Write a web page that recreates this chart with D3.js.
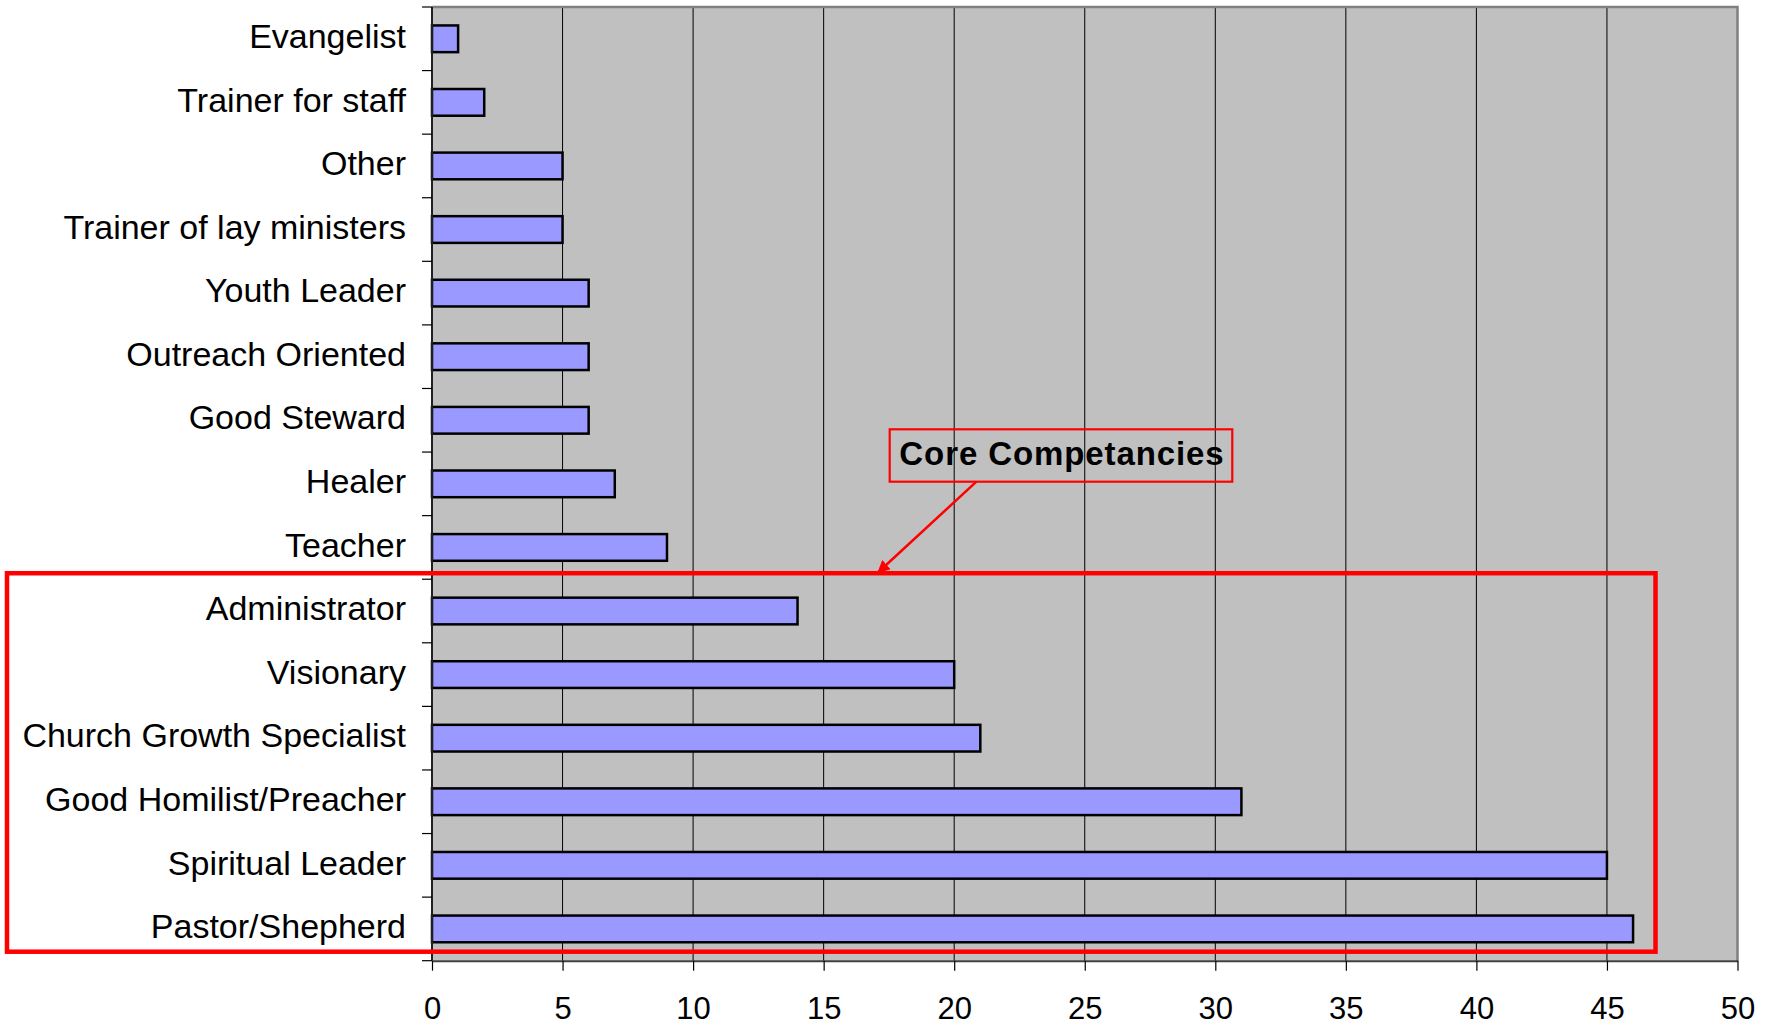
<!DOCTYPE html>
<html>
<head>
<meta charset="utf-8">
<script src="https://cdn.jsdelivr.net/npm/d3@7"></script>
<style>
  html, body { margin: 0; padding: 0; background: #fff; }
  svg { display: block; font-family: "Liberation Sans", Arial, sans-serif; }
</style>
</head>
<body>
<svg id="chart" width="1776" height="1024"></svg>
<script>
// roles, top to bottom as they appear in the chart
const roles = [
  "Evangelist", "Trainer for staff", "Other", "Trainer of lay ministers",
  "Youth Leader", "Outreach Oriented", "Good Steward", "Healer", "Teacher",
  "Administrator", "Visionary", "Church Growth Specialist",
  "Good Homilist/Preacher", "Spiritual Leader", "Pastor/Shepherd"
];
const counts = [1, 2, 5, 5, 6, 6, 6, 7, 9, 14, 20, 21, 31, 45, 46];
const xTicks = [0, 5, 10, 15, 20, 25, 30, 35, 40, 45, 50];
const coreRoles = ["Administrator", "Visionary", "Church Growth Specialist",
  "Good Homilist/Preacher", "Spiritual Leader", "Pastor/Shepherd"];
const calloutText = "Core Competancies";

const svg = d3.select('#chart');

const plot = { left: 432, right: 1737.5, top: 7, bottom: 960.7 };

const x = d3.scaleLinear().domain([0, 50]).range([plot.left, plot.right]);
const y = d3.scaleBand().domain(roles).range([plot.top, plot.bottom]).padding(0);
const barH = y.bandwidth() * 0.42;

// plot background
svg.append('rect')
  .attr('x', plot.left).attr('y', plot.top)
  .attr('width', plot.right - plot.left).attr('height', plot.bottom - plot.top)
  .attr('fill', '#c0c0c0');

// vertical gridlines
svg.append('g').selectAll('line')
  .data(xTicks.filter(d => d > 0 && d < 50))
  .join('line')
  .attr('x1', d => x(d)).attr('x2', d => x(d))
  .attr('y1', plot.top).attr('y2', plot.bottom)
  .attr('stroke', '#000').attr('stroke-width', 1);

// plot border (top + right, grey)
svg.append('path')
  .attr('d', `M${plot.left},${plot.top}H${plot.right}V${plot.bottom}`)
  .attr('fill', 'none').attr('stroke', '#808080').attr('stroke-width', 2.5);

// bars
svg.append('g').selectAll('rect')
  .data(roles)
  .join('rect')
  .attr('x', x(0))
  .attr('y', d => y(d) + (y.bandwidth() - barH) / 2)
  .attr('width', (d, i) => x(counts[i]) - x(0))
  .attr('height', barH)
  .attr('fill', '#9999ff')
  .attr('stroke', '#000')
  .attr('stroke-width', 2.5);

// x axis
const xAxis = svg.append('g')
  .attr('transform', `translate(0,${plot.bottom})`)
  .call(d3.axisBottom(x).tickValues(xTicks).tickSize(10).tickSizeOuter(0).tickPadding(26));
xAxis.select('.domain').attr('stroke', '#404040').attr('stroke-width', 2);
xAxis.selectAll('.tick line').attr('stroke', '#000').attr('stroke-width', 1.2);
xAxis.selectAll('.tick text')
  .attr('fill', '#000')
  .style('font-size', '31px')
  .style('font-family', '"Liberation Sans", Arial, sans-serif');

// y axis: line, ticks at band edges, labels
const edges = roles.map(r => y(r)).concat([plot.bottom]);
svg.append('line')
  .attr('x1', plot.left).attr('x2', plot.left)
  .attr('y1', plot.top).attr('y2', plot.bottom)
  .attr('stroke', '#202020').attr('stroke-width', 2);
svg.append('g').selectAll('line')
  .data(edges)
  .join('line')
  .attr('x1', plot.left - 10).attr('x2', plot.left)
  .attr('y1', d => d).attr('y2', d => d)
  .attr('stroke', '#000').attr('stroke-width', 1.2);
svg.append('g').selectAll('text')
  .data(roles)
  .join('text')
  .attr('x', plot.left - 26)
  .attr('y', d => y(d) + y.bandwidth() / 2)
  .attr('dy', '0.27em')
  .attr('text-anchor', 'end')
  .style('font-size', '34px')
  .attr('fill', '#000')
  .text(d => d);

// red box around the core competencies
const coreTop = y(coreRoles[0]) - 6;
const coreBottom = y(coreRoles[coreRoles.length - 1]) + y.bandwidth() - 9;
svg.append('rect')
  .attr('x', 7).attr('y', coreTop)
  .attr('width', x(46.86) - 7).attr('height', coreBottom - coreTop)
  .attr('fill', 'none').attr('stroke', '#ff0000').attr('stroke-width', 4.5);

// callout
const callout = { x0: x(17.53), x1: x(30.65), y0: 429.3, y1: 481.7 };
svg.append('rect')
  .attr('x', callout.x0).attr('y', callout.y0)
  .attr('width', callout.x1 - callout.x0).attr('height', callout.y1 - callout.y0)
  .attr('fill', 'none').attr('stroke', '#ff0000').attr('stroke-width', 2.2);
svg.append('text')
  .attr('x', (callout.x0 + callout.x1) / 2 + 1)
  .attr('y', 465)
  .attr('text-anchor', 'middle')
  .style('font-size', '33px')
  .style('font-weight', 'bold')
  .style('letter-spacing', '0.9px')
  .attr('fill', '#000')
  .text(calloutText);

// arrow from callout to the box
svg.append('defs').append('marker')
  .attr('id', 'arrow')
  .attr('viewBox', '0 0 10 10')
  .attr('refX', 9).attr('refY', 5)
  .attr('markerWidth', 5).attr('markerHeight', 5)
  .attr('markerUnits', 'strokeWidth')
  .attr('orient', 'auto')
  .append('path').attr('d', 'M0,0L10,5L0,10z').attr('fill', '#ff0000');
svg.append('line')
  .attr('x1', x(20.85)).attr('y1', callout.y1)
  .attr('x2', x(17.09)).attr('y2', coreTop - 1)
  .attr('stroke', '#ff0000').attr('stroke-width', 2.5)
  .attr('marker-end', 'url(#arrow)');
</script>
</body>
</html>
